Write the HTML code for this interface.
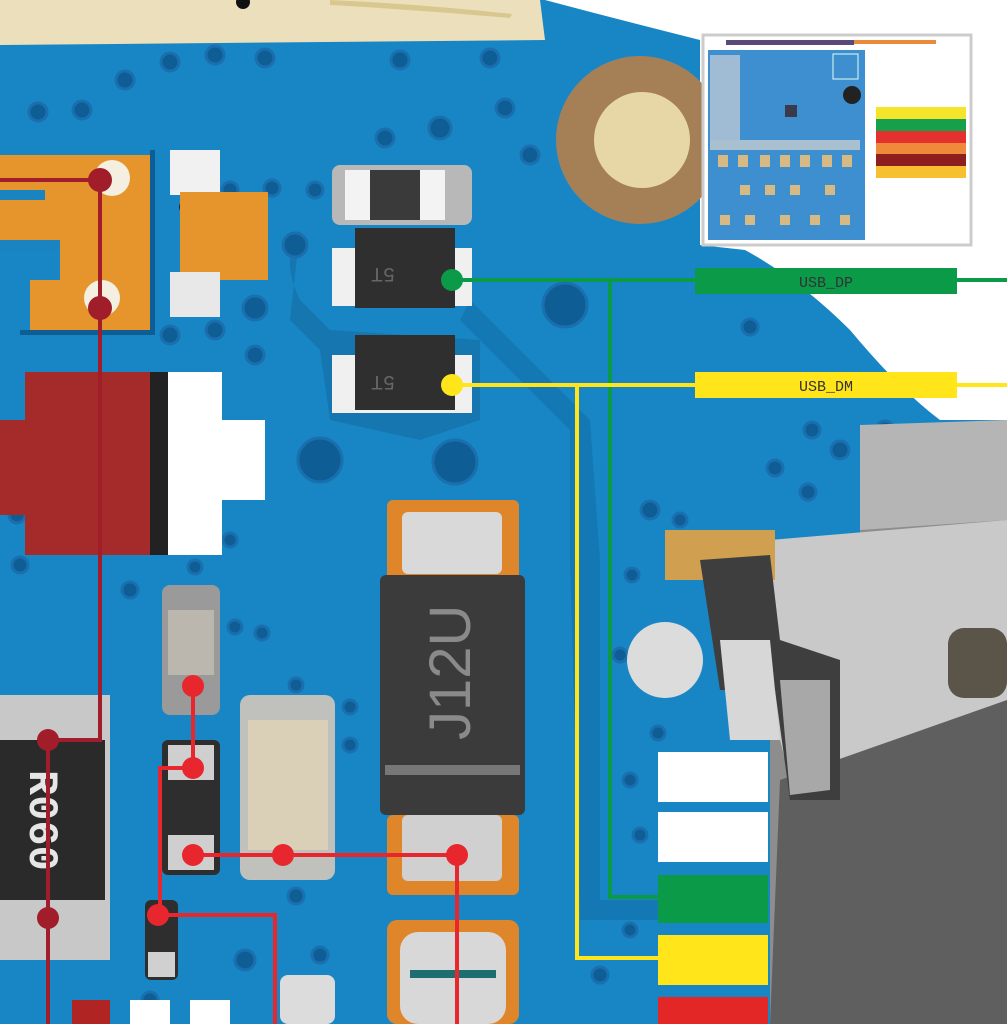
<!DOCTYPE html>
<html><head><meta charset="utf-8"><style>
html,body{margin:0;padding:0;background:#fff;}
svg{display:block}
</style></head><body>
<svg width="1007" height="1024" viewBox="0 0 1007 1024" xmlns="http://www.w3.org/2000/svg">
<rect width="1007" height="1024" fill="#ffffff"/>
<!-- board -->
<path d="M0,0 L545,0 Q620,20 700,40 L700,245 L745,250 Q800,280 850,330 Q900,390 940,420 L1007,420 L1007,1024 L0,1024 Z" fill="#1886c4"/>
<!-- top metal strip -->
<path d="M0,0 L540,0 L545,40 L0,45 Z" fill="#ece0bc"/>
<path d="M330,5 Q420,10 510,18 L512,14 Q420,4 330,0 Z" fill="#d8c890"/>
<circle cx="243" cy="2" r="7" fill="#111"/>
<!-- gold mount pad -->
<circle cx="640" cy="140" r="84" fill="#a58057"/>
<circle cx="642" cy="140" r="48" fill="#e7d7a6"/>
<!-- dark trace regions -->
<path d="M300,230 Q280,260 300,300 L330,330 L480,340 L480,420 L420,440 L330,420 L320,350 L290,320 Z" fill="#146fa8" opacity="0.7"/>
<path d="M470,300 L590,420 L600,560 L600,900 L660,900 L660,920 L580,920 L570,560 L570,430 L460,320 Z" fill="#1370aa" opacity="0.6"/>
<!-- vias -->
<g fill="#0f5d95" stroke="#1a6fae" stroke-width="3">
<circle cx="170" cy="62" r="9"/><circle cx="215" cy="55" r="9"/><circle cx="265" cy="58" r="9"/><circle cx="125" cy="80" r="9"/>
<circle cx="38" cy="112" r="9"/><circle cx="82" cy="110" r="9"/><circle cx="400" cy="60" r="9"/><circle cx="490" cy="58" r="9"/>
<circle cx="385" cy="138" r="9"/><circle cx="440" cy="128" r="11"/><circle cx="505" cy="108" r="9"/><circle cx="530" cy="155" r="9"/>
<circle cx="230" cy="190" r="8"/><circle cx="272" cy="188" r="8"/><circle cx="315" cy="190" r="8"/>
<circle cx="295" cy="245" r="12"/><circle cx="255" cy="308" r="12"/><circle cx="170" cy="335" r="9"/><circle cx="215" cy="330" r="9"/>
<circle cx="255" cy="355" r="9"/><circle cx="320" cy="460" r="22"/><circle cx="455" cy="462" r="22"/><circle cx="565" cy="305" r="22"/>
<circle cx="650" cy="510" r="9"/><circle cx="632" cy="575" r="7"/><circle cx="680" cy="520" r="7"/><circle cx="812" cy="430" r="8"/>
<circle cx="775" cy="468" r="8"/><circle cx="808" cy="492" r="8"/><circle cx="840" cy="450" r="9"/><circle cx="885" cy="430" r="9"/>
<circle cx="130" cy="590" r="8"/><circle cx="20" cy="565" r="8"/><circle cx="195" cy="567" r="7"/><circle cx="230" cy="540" r="7"/>
<circle cx="235" cy="627" r="7"/><circle cx="262" cy="633" r="7"/><circle cx="296" cy="685" r="7"/><circle cx="350" cy="707" r="7"/>
<circle cx="350" cy="745" r="7"/><circle cx="658" cy="733" r="7"/><circle cx="630" cy="780" r="7"/>
<circle cx="245" cy="960" r="10"/><circle cx="320" cy="955" r="8"/><circle cx="150" cy="1000" r="8"/><circle cx="296" cy="896" r="8"/>
<circle cx="600" cy="975" r="8"/><circle cx="17" cy="515" r="8"/><circle cx="750" cy="327" r="8"/><circle cx="620" cy="655" r="7"/>
<circle cx="640" cy="835" r="7"/><circle cx="630" cy="930" r="7"/>
</g>
<!-- orange pads top-left -->
<path d="M0,155 L150,155 L150,330 L30,330 L30,280 L60,280 L60,250 L0,250 Z" fill="#e6952c"/>
<path d="M0,190 L45,190 L45,200 L0,200 Z M0,250 L60,250 L60,240 L0,240 Z" fill="#1a84c0"/>
<path d="M150,150 L155,150 L155,335 L20,335 L20,330 L150,330 Z" fill="#0f5d95"/>
<circle cx="112" cy="178" r="18" fill="#f4efe0"/>
<circle cx="102" cy="298" r="18" fill="#f4efe0"/>
<!-- center small pads -->
<rect x="170" y="150" width="50" height="45" fill="#f1f1f1"/>
<circle cx="185" cy="207" r="6" fill="#222"/>
<rect x="180" y="192" width="88" height="88" fill="#e6952c"/>
<rect x="170" y="272" width="50" height="45" fill="#e8e8e8"/>
<!-- dark red block -->
<path d="M25,372 L150,372 L150,555 L25,555 L25,515 L0,515 L0,420 L25,420 Z" fill="#a52a2a"/>
<rect x="150" y="372" width="20" height="183" fill="#222"/>
<path d="M168,372 L222,372 L222,420 L265,420 L265,500 L222,500 L222,555 L168,555 Z" fill="#ffffff"/>
<!-- top component -->
<rect x="332" y="165" width="140" height="60" rx="8" fill="#b8b8b8"/>
<rect x="345" y="170" width="25" height="50" fill="#f3f3f3"/>
<rect x="420" y="170" width="25" height="50" fill="#f3f3f3"/>
<rect x="370" y="170" width="50" height="50" fill="#3a3a3a"/>
<!-- 5T components -->
<rect x="332" y="248" width="140" height="58" fill="#f0f0f0"/>
<rect x="355" y="228" width="100" height="80" fill="#2f2f2f"/>
<text x="405" y="282" font-family="Liberation Mono,monospace" font-size="20" fill="#666" transform="rotate(180 400 275)">5T</text>
<rect x="332" y="355" width="140" height="58" fill="#f0f0f0"/>
<rect x="355" y="335" width="100" height="75" fill="#2f2f2f"/>
<text x="405" y="390" font-family="Liberation Mono,monospace" font-size="20" fill="#666" transform="rotate(180 400 383)">5T</text>
<!-- connector metal -->
<path d="M860,430 L1007,420 L1007,1024 L770,1024 L770,560 L860,540 Z" fill="#8d8d8d"/>
<path d="M770,540 L1007,520 L1007,700 L880,760 L790,780 L770,700 Z" fill="#c9c9c9"/>
<path d="M860,425 L1007,420 L1007,520 L860,530 Z" fill="#b5b5b5"/>
<path d="M780,780 L1007,700 L1007,1024 L770,1024 Z" fill="#5f5f5f"/>
<rect x="948" y="628" width="59" height="70" rx="16" fill="#5a5548"/>
<rect x="665" y="530" width="110" height="50" fill="#d0a050"/>
<circle cx="665" cy="660" r="38" fill="#dcdcdc"/>
<path d="M700,560 L770,555 L780,640 L840,660 L840,800 L790,800 L775,690 L720,690 Z" fill="#3e3e3e"/>
<path d="M720,640 L770,640 L780,740 L730,740 Z" fill="#d7d7d7"/>
<path d="M780,680 L830,680 L830,790 L790,795 Z" fill="#a8a8a8"/>
<!-- big diode J12U -->
<rect x="387" y="500" width="132" height="82" rx="6" fill="#e0862a"/>
<rect x="402" y="512" width="100" height="62" rx="6" fill="#d9d9d9"/>
<rect x="380" y="575" width="145" height="240" rx="6" fill="#3b3b3b"/>
<rect x="385" y="765" width="135" height="10" fill="#777"/>
<text x="0" y="0" font-family="Liberation Sans,sans-serif" font-size="58" fill="#8a8a8a" transform="translate(470,740) rotate(-90)">J12U</text>
<rect x="387" y="815" width="132" height="80" rx="6" fill="#e0862a"/>
<rect x="402" y="815" width="100" height="66" rx="6" fill="#d0d0d0"/>
<rect x="387" y="920" width="132" height="104" rx="10" fill="#e0862a"/>
<rect x="400" y="932" width="106" height="92" rx="18" fill="#d8d8d8"/>
<rect x="410" y="970" width="86" height="8" fill="#1d6e70"/>
<!-- capacitor -->
<rect x="240" y="695" width="95" height="185" rx="10" fill="#c0c0bc"/>
<rect x="248" y="720" width="80" height="130" fill="#d9d0b7"/>
<!-- small components -->
<rect x="162" y="585" width="58" height="130" rx="8" fill="#9a9a9a"/>
<rect x="168" y="610" width="46" height="65" fill="#bcb7ae"/>
<rect x="162" y="740" width="58" height="135" rx="6" fill="#2e2e2e"/>
<rect x="168" y="745" width="46" height="35" fill="#cfcfcf"/>
<rect x="168" y="835" width="46" height="35" fill="#cfcfcf"/>
<rect x="145" y="900" width="33" height="80" rx="6" fill="#2e2e2e"/>
<rect x="148" y="952" width="27" height="25" fill="#d0d0d0"/>
<rect x="280" y="975" width="55" height="49" rx="8" fill="#dcdcdc"/>
<!-- R060 resistor -->
<rect x="0" y="695" width="110" height="265" fill="#c8c8c8"/>
<rect x="0" y="740" width="105" height="160" fill="#2a2a2a"/>
<text x="0" y="0" font-family="Liberation Mono,monospace" font-weight="bold" font-size="42" fill="#e6e6e6" transform="translate(30,770) rotate(90)">R060</text>
<!-- bottom-left small blocks -->
<rect x="72" y="1000" width="38" height="24" fill="#b02424"/>
<rect x="130" y="1000" width="40" height="24" fill="#fff"/>
<rect x="190" y="1000" width="40" height="24" fill="#fff"/>
<!-- connector pin labels -->
<rect x="658" y="752" width="110" height="50" fill="#fff"/>
<rect x="658" y="812" width="110" height="50" fill="#fff"/>
<rect x="658" y="875" width="110" height="48" fill="#0a9a48"/>
<rect x="658" y="935" width="110" height="50" fill="#ffe51a"/>
<rect x="658" y="997" width="110" height="27" fill="#e32626"/>
<!-- dark red net -->
<g stroke="#a11d2a" stroke-width="4" fill="none">
<path d="M0,180 L100,180 L100,740 L48,740 L48,1024"/>
</g>
<g fill="#a11d2a"><circle cx="100" cy="180" r="12"/><circle cx="100" cy="308" r="12"/><circle cx="48" cy="740" r="11"/><circle cx="48" cy="918" r="11"/></g>
<!-- bright red net -->
<g stroke="#e8262e" stroke-width="4" fill="none">
<path d="M193,685 L193,768 L160,768 L160,915 L275,915 L275,1024"/>
<path d="M193,855 L457,855 L457,1024"/>
</g>
<g fill="#e8262e"><circle cx="193" cy="686" r="11"/><circle cx="193" cy="768" r="11"/><circle cx="193" cy="855" r="11"/><circle cx="283" cy="855" r="11"/><circle cx="457" cy="855" r="11"/><circle cx="158" cy="915" r="11"/></g>
<!-- USB DP / DM -->
<g stroke="#0a9a48" stroke-width="4" fill="none"><path d="M452,280 L1007,280 M610,280 L610,897 L658,897"/></g>
<circle cx="452" cy="280" r="11" fill="#0a9a48"/>
<g stroke="#ffe51a" stroke-width="4" fill="none"><path d="M452,385 L1007,385 M577,385 L577,958 L658,958"/></g>
<circle cx="452" cy="385" r="11" fill="#ffe51a"/>
<rect x="695" y="268" width="262" height="26" fill="#0a9a48"/>
<text x="826" y="287" text-anchor="middle" font-family="Liberation Mono,monospace" font-size="15" fill="#333">USB_DP</text>
<rect x="695" y="372" width="262" height="26" fill="#ffe51a"/>
<text x="826" y="391" text-anchor="middle" font-family="Liberation Mono,monospace" font-size="15" fill="#333">USB_DM</text>
<!-- inset -->
<rect x="703" y="35" width="268" height="210" fill="#fff" stroke="#cccccc" stroke-width="3"/>
<rect x="726" y="40" width="128" height="5" fill="#5a4a7a"/>
<rect x="854" y="40" width="82" height="4" fill="#e88a3a"/>
<rect x="708" y="50" width="157" height="190" fill="#3e8fcf"/>
<rect x="710" y="55" width="30" height="90" fill="#9fbcd4"/>
<rect x="710" y="140" width="150" height="10" fill="#a8c0d0"/>
<g fill="#d7b983"><rect x="718" y="155" width="10" height="12"/><rect x="738" y="155" width="10" height="12"/><rect x="760" y="155" width="10" height="12"/><rect x="780" y="155" width="10" height="12"/><rect x="800" y="155" width="10" height="12"/><rect x="822" y="155" width="10" height="12"/><rect x="842" y="155" width="10" height="12"/>
<rect x="740" y="185" width="10" height="10"/><rect x="765" y="185" width="10" height="10"/><rect x="790" y="185" width="10" height="10"/><rect x="825" y="185" width="10" height="10"/>
<rect x="720" y="215" width="10" height="10"/><rect x="745" y="215" width="10" height="10"/><rect x="780" y="215" width="10" height="10"/><rect x="810" y="215" width="10" height="10"/><rect x="840" y="215" width="10" height="10"/></g>
<circle cx="852" cy="95" r="9" fill="#222"/>
<rect x="833" y="54" width="25" height="25" fill="none" stroke="#dfe" stroke-width="1"/>
<rect x="785" y="105" width="12" height="12" fill="#3a3a4a"/>
<rect x="876" y="107" width="90" height="12" fill="#f5e52a"/>
<rect x="876" y="119" width="90" height="12" fill="#16a04c"/>
<rect x="876" y="131" width="90" height="12" fill="#e53030"/>
<rect x="876" y="143" width="90" height="11" fill="#f08a3a"/>
<rect x="876" y="154" width="90" height="12" fill="#8e1f1f"/>
<rect x="876" y="166" width="90" height="12" fill="#f6c030"/>
</svg>
</body></html>
